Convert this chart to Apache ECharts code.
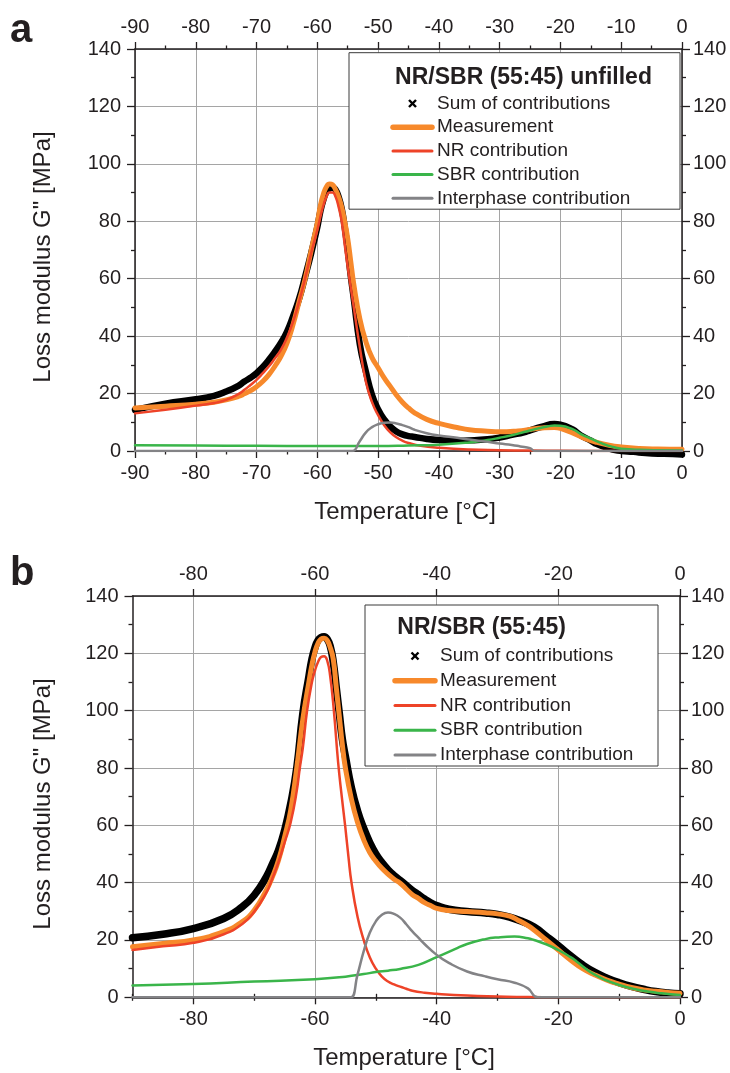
<!DOCTYPE html>
<html><head><meta charset="utf-8">
<script src="https://cdn.jsdelivr.net/npm/echarts@6/dist/echarts.min.js"></script>
<style>html,body{margin:0;padding:0;background:#fff}#c{width:730px;height:1073px}</style>
</head><body><div id="c"></div>
<script>
// ---------- Panel a: NR/SBR (55:45) unfilled  [temperature °C, G'' MPa] ----------
const aSum = [[-90,14.3],[-85,16.5],[-80,18.0],[-77,19.2],[-75,20.7],[-73,22.7],[-72,24.2],[-71,25.5],[-70,27.1],[-69,29.2],[-68,31.7],[-67,34.5],[-66,37.6],[-65,41.5],[-64,46.9],[-63,53],[-62,60.8],[-61,69],[-60,78],[-59.5,83.5],[-59,87.5],[-58.5,90.3],[-58,91.5],[-57.5,91.8],[-57,91],[-56.5,88.5],[-56,84.5],[-55.5,78],[-55,70],[-54.5,61],[-54,53],[-53,37],[-52,27.5],[-51,19.5],[-50,14.5],[-49,11],[-48,8.5],[-47,6.8],[-46,5.8],[-45,5.2],[-44,4.9],[-42,4.2],[-40,3.8],[-37,3.6],[-35,3.7],[-32,4.1],[-30,4.7],[-28,5.6],[-26,6.5],[-25,7.2],[-23,8.5],[-21,9.4],[-20,9.2],[-18,7.5],[-16.7,5.5],[-15,3.6],[-14,2.4],[-12,0.9],[-11,0.3],[-10,0],[-8,-0.3],[-6,-0.7],[-3,-1.0],[0,-1.2]];
const aMeas = [[-90,15.0],[-85,15.6],[-80,16.3],[-77,17.0],[-75,17.8],[-73,19.0],[-72,19.9],[-71,21.0],[-70,22.4],[-69,24.2],[-68,26.5],[-67,29.5],[-66,32.9],[-65,37.5],[-64,44],[-63,52],[-62,60],[-61,70],[-60,79.5],[-59.5,85.5],[-59,89.5],[-58.5,92],[-58,93],[-57.5,92.7],[-57,91],[-56.5,88.5],[-56,85],[-55.5,80],[-55,74],[-54.5,66],[-54,58],[-53,46],[-52,38],[-51,32.5],[-50,29],[-49,25.5],[-48,22.5],[-47,19.5],[-46,17],[-45,15],[-44,13.3],[-42,11],[-40,9.6],[-37,8.2],[-35,7.4],[-32,6.9],[-30,6.7],[-27,7.0],[-25,7.5],[-23,8.0],[-21,8.2],[-20,7.9],[-18,6.3],[-16,4.4],[-14,3.0],[-12,2.0],[-10,1.4],[-7,0.9],[-4,0.7],[0,0.6]];
const aNR = [[-90,13.1],[-85,14.4],[-80,15.8],[-77,16.7],[-75,17.8],[-73,19.8],[-72,21.3],[-71,23],[-70,24.8],[-69,27],[-68,29.4],[-67,32.2],[-66,35.2],[-65,39.5],[-64,45],[-63,52],[-62,60.2],[-61,69],[-60,77],[-59.5,81.5],[-59,85.5],[-58.5,88.5],[-58,90],[-57.5,90],[-57,88.5],[-56.5,85],[-56,80],[-55.5,72],[-55,64],[-54,50],[-53,36],[-52,24],[-51,17],[-50,12.5],[-49,9],[-48,6.5],[-47,4.8],[-46,3.6],[-45,2.8],[-43,1.8],[-40,1.1],[-35,0.5],[-30,0.3],[-25,0.15],[-20,0.08],[-10,0.02],[0,0]];
const aSBR = [[-90,2.0],[-80,1.9],[-70,1.8],[-60,1.7],[-50,1.7],[-45,1.9],[-40,2.2],[-35,3.0],[-32,3.8],[-30,4.6],[-28,5.5],[-26,6.6],[-24,7.7],[-22,8.6],[-21,8.9],[-20,8.8],[-18,7.6],[-16.7,6.0],[-15,4.3],[-13,2.5],[-11,1.2],[-10,0.8],[-7,0.4],[-4,0.25],[0,0.2]];
const aInter = [[-90,0],[-60,0],[-55,0],[-54.2,0],[-53,3.5],[-52,6.5],[-51,8.3],[-50,9.3],[-49,9.8],[-48,9.9],[-47,9.6],[-46,9.0],[-45,8.3],[-44,7.4],[-42,6.2],[-40,5.4],[-37,4.6],[-35,4.0],[-32,3.2],[-30,2.6],[-28,2.1],[-26.6,1.6],[-25,1.0],[-24.2,0],[-20,0],[0,0]];

// ---------- Panel b: NR/SBR (55:45) ----------
const bSum = [[-90,20.8],[-85,22],[-80,24],[-75,27.5],[-72,31.5],[-70,35.6],[-68,42],[-67,46.5],[-66,51.3],[-65,58.2],[-64,67.5],[-63,80],[-62,99],[-61,112],[-60.5,118],[-60,122],[-59.5,124.5],[-59,125.5],[-58.5,125.8],[-58,125],[-57.5,122.5],[-57,117],[-56.5,108],[-56,99],[-55.5,90],[-55,84],[-54,73],[-53,65],[-52,59],[-51,54],[-50,50],[-49,47],[-48,44.5],[-47,42.5],[-46,40.8],[-45,39],[-44,37.3],[-43,35.8],[-42,34.3],[-41,33],[-40,32],[-38,30.7],[-35,29.9],[-32,29.4],[-30,28.9],[-28,28],[-26,26.5],[-24,24.5],[-22,21.3],[-20,18],[-18,14.5],[-16,11.3],[-14,8.7],[-12,6.7],[-10,5.1],[-8,3.8],[-6,2.8],[-4,2.0],[-2,1.5],[0,1.2]];
const bMeas = [[-90,17.6],[-85,18.8],[-80,20],[-75,22.9],[-72,26.3],[-70,30.4],[-68,37.4],[-67,42],[-66,47.8],[-65,55.9],[-64,65.2],[-63,80],[-62,97],[-61,110],[-60.5,116],[-60,120.5],[-59.5,123.5],[-59,125],[-58.5,125.3],[-58,124.5],[-57.5,122],[-57,118],[-56.5,108],[-56,98],[-55.5,88],[-55,80],[-54,69],[-53,61],[-52,55],[-51,50.5],[-50,47.5],[-49,45],[-48,43],[-47,41.2],[-46,39.8],[-45,37.8],[-44,35.8],[-43,34.5],[-42,33],[-41,32],[-40,31],[-38,30.3],[-35,29.9],[-32,29.5],[-30,29.1],[-28,28.3],[-26.7,27],[-25,25],[-24,23.5],[-22,20],[-20,16.5],[-18,13],[-16,10],[-14,7.8],[-12,6],[-10,4.6],[-8,3.4],[-6,2.6],[-4,2.1],[-2,1.7],[0,1.4]];
const bNR = [[-90,16.5],[-85,17.8],[-80,19],[-75,22],[-72,25.5],[-70,29.8],[-68,36.5],[-67,41.5],[-66,47.2],[-65,54],[-64,61],[-63,72],[-62.5,80],[-62,87],[-61.3,100],[-60.5,110],[-60,114],[-59.5,117],[-59,118.7],[-58.5,119],[-58,117.5],[-57.5,112],[-56.9,100],[-56.2,82],[-55.6,70],[-55,59],[-54.5,49],[-54,40],[-53,28],[-52,20],[-51,14],[-50,10],[-49,7.2],[-48,5.5],[-47,4.5],[-46,3.7],[-45,3.0],[-44,2.3],[-42,1.6],[-40,1.2],[-35,0.6],[-30,0.3],[-25,0.1],[-20,0.05],[0,0]];
const bSBR = [[-90,4.1],[-80,4.6],[-70,5.5],[-60,6.3],[-55,7.2],[-52,8.1],[-50,8.8],[-48,9.3],[-46,9.9],[-43,11.3],[-40,14.0],[-37,16.8],[-35,18.6],[-32,20.3],[-30,20.9],[-27.2,21.2],[-25,20.6],[-24,20],[-22,18.5],[-20,16.5],[-18,14],[-17,12.5],[-15,9.2],[-13,6.8],[-12,5.8],[-10,4.3],[-7.5,2.9],[-5,1.9],[-3,1.4],[0,0.8]];
const bInter = [[-90,0],[-60,0],[-55,0],[-54.1,0],[-53,8],[-52,16],[-51,22.5],[-50,26.5],[-49,28.8],[-48,29.6],[-47,29.1],[-46,27.8],[-45,25.5],[-44,23],[-43,20.8],[-42,18.6],[-40,14.8],[-38,12],[-35,9],[-32,7.3],[-30,6.3],[-27.2,5.1],[-25,3.1],[-23.4,0],[-20,0],[0,0]];

// ---------- ticks / labels ----------
const bMajorTicks = [-80,-60,-40,-20,0];
const bMinorTicks = [-90,-70,-50,-30,-10];
const seriesNames = ['Sum of contributions','Measurement','NR contribution','SBR contribution','Interphase contribution'];
const titleA = 'NR/SBR (55:45) unfilled';
const titleB = 'NR/SBR (55:45)';

const FONT = '"Liberation Sans", Arial, Helvetica, sans-serif';
const TXT = '#231f20';
const COL = {sum:'#000000', meas:'#f7892b', nr:'#ee4328', sbr:'#3ab54a', inter:'#838386'};
const GRIDC = '#a5a5a5';

const axLine = {show:true, onZero:false, lineStyle:{color:TXT, width:1.5}};
const tickStyle = {color:TXT, width:1.3};
function lab(margin, extra){ return Object.assign({fontSize:20, fontFamily:FONT, color:TXT, margin:margin}, extra||{}); }

const xAxes = [
  {type:'value', gridIndex:0, position:'bottom', min:-90, max:0, interval:10, axisLine:axLine,
   axisTick:{show:true,length:7,lineStyle:tickStyle}, minorTick:{show:true,splitNumber:2,length:3.5,lineStyle:tickStyle},
   axisLabel:lab(12), splitLine:{show:true,lineStyle:{color:GRIDC,width:1}}},
  {type:'value', gridIndex:0, position:'top', min:-90, max:0, interval:10, axisLine:axLine,
   axisTick:{show:true,length:7,lineStyle:tickStyle}, minorTick:{show:true,splitNumber:2,length:3.5,lineStyle:tickStyle},
   axisLabel:lab(12), splitLine:{show:false}},
  {type:'value', gridIndex:1, position:'bottom', min:-90, max:0, axisLine:axLine,
   axisTick:{show:true,length:7,lineStyle:tickStyle,customValues:bMajorTicks},
   axisLabel:lab(12,{customValues:bMajorTicks}), splitLine:{show:true,lineStyle:{color:GRIDC,width:1}}},
  {type:'value', gridIndex:1, position:'bottom', min:-90, max:0, axisLine:{show:false},
   axisTick:{show:true,length:3.5,lineStyle:tickStyle,customValues:bMinorTicks},
   axisLabel:{show:false}, splitLine:{show:false}},
  {type:'value', gridIndex:1, position:'top', min:-90, max:0, axisLine:axLine,
   axisTick:{show:true,length:7,lineStyle:tickStyle,customValues:bMajorTicks},
   axisLabel:lab(12,{customValues:bMajorTicks}), splitLine:{show:false}},
  {type:'value', gridIndex:1, position:'top', min:-90, max:0, axisLine:{show:false},
   axisTick:{show:true,length:3.5,lineStyle:tickStyle,customValues:bMinorTicks},
   axisLabel:{show:false}, splitLine:{show:false}}
];
function yAx(g, pos, split){
  return {type:'value', gridIndex:g, position:pos, min:0, max:140, interval:20, axisLine:axLine,
    axisTick:{show:true,length:8,lineStyle:tickStyle}, minorTick:{show:true,splitNumber:2,length:4,lineStyle:tickStyle},
    axisLabel:lab(pos==='left'?14:11), splitLine:{show:split,lineStyle:{color:GRIDC,width:1}}};
}
const yAxes = [yAx(0,'left',true), yAx(0,'right',false), yAx(1,'left',true), yAx(1,'right',false)];

function ser(name, data, xi, yi, color, width, z, clip){
  return {type:'line', name:name, data:data, xAxisIndex:xi, yAxisIndex:yi, symbol:'none', showSymbol:false,
    smooth:0.5, clip:clip!==false, z:z, silent:true, animation:false,
    lineStyle:{color:color, width:width, cap:'round', join:'round'}};
}
const series = [
  ser(seriesNames[0], aSum, 0, 0, COL.sum, 6.5, 2, false),
  ser(seriesNames[1], aMeas, 0, 0, COL.meas, 5, 3),
  ser(seriesNames[2], aNR, 0, 0, COL.nr, 2.5, 4),
  ser(seriesNames[3], aSBR, 0, 0, COL.sbr, 2.5, 5),
  ser(seriesNames[4], aInter, 0, 0, COL.inter, 2.5, 6),
  ser(seriesNames[0], bSum, 2, 2, COL.sum, 7.5, 2),
  ser(seriesNames[1], bMeas, 2, 2, COL.meas, 5, 3),
  ser(seriesNames[2], bNR, 2, 2, COL.nr, 2.5, 4),
  ser(seriesNames[3], bSBR, 2, 2, COL.sbr, 2.5, 5),
  ser(seriesNames[4], bInter, 2, 2, COL.inter, 2.5, 6)
];

function txt(x, y, text, size, opts){
  opts = opts || {};
  return {type:'text', x:x, y:y, rotation:opts.rotation||0, z:110,
    style:{text:text, fontSize:size, fontFamily:FONT, fontWeight:opts.bold?'bold':'normal', fill:TXT,
      align:opts.align||'left', verticalAlign:'middle', textAlign:opts.align||'left', textVerticalAlign:'middle'}};
}
function legend(box, title, titleX, titleY, titleAlign, x1, x2, textX, rowY, gap){
  const els = [];
  els.push({type:'rect', z:100, shape:{x:box[0], y:box[1], width:box[2], height:box[3]},
    style:{fill:'#ffffff', stroke:'#3a3a3a', lineWidth:1}});
  els.push(txt(titleX, titleY, title, 23, {bold:true, align:titleAlign}));
  const cols = [null, COL.meas, COL.nr, COL.sbr, COL.inter];
  const widths = [0, 5.5, 3, 3, 3];
  for (let i=0;i<5;i++){
    const y = rowY + gap*i;
    if (i===0){
      const cx = (x1+x2)/2, s = 3.5;
      els.push({type:'line', z:110, shape:{x1:cx-s,y1:y-s,x2:cx+s,y2:y+s}, style:{stroke:'#000',lineWidth:2.4}});
      els.push({type:'line', z:110, shape:{x1:cx-s,y1:y+s,x2:cx+s,y2:y-s}, style:{stroke:'#000',lineWidth:2.4}});
    } else {
      els.push({type:'line', z:110, shape:{x1:x1,y1:y,x2:x2,y2:y}, style:{stroke:cols[i],lineWidth:widths[i],lineCap:'round'}});
    }
    els.push(txt(textX, y, seriesNames[i], 19));
  }
  return els;
}

const graphics = [].concat(
  [txt(10, 31, 'a', 40, {bold:true}), txt(10, 574, 'b', 40, {bold:true}),
   txt(43, 257, 'Loss modulus G" [MPa]', 24, {rotation:Math.PI/2, align:'center'}),
   txt(43, 804, 'Loss modulus G" [MPa]', 24, {rotation:Math.PI/2, align:'center'}),
   txt(405, 512, 'Temperature [°C]', 24, {align:'center'}),
   txt(404, 1058, 'Temperature [°C]', 24, {align:'center'})],
  legend([349, 52.7, 331, 156.5], titleA, 523.5, 77.3, 'center', 393, 432, 437, 103.5, 23.7),
  legend([365, 605, 293, 161], titleB, 397.3, 628, 'left', 395, 435, 440, 656, 24.75)
);

const chart = echarts.init(document.getElementById('c'), null, {renderer:'canvas'});
chart.setOption({
  animation:false,
  backgroundColor:'#ffffff',
  textStyle:{fontFamily:FONT},
  grid:[{left:135, top:49, width:547, height:402}, {left:132.5, top:596, width:547.5, height:401.3}],
  xAxis:xAxes, yAxis:yAxes, series:series, graphic:graphics
});
</script></body></html>
